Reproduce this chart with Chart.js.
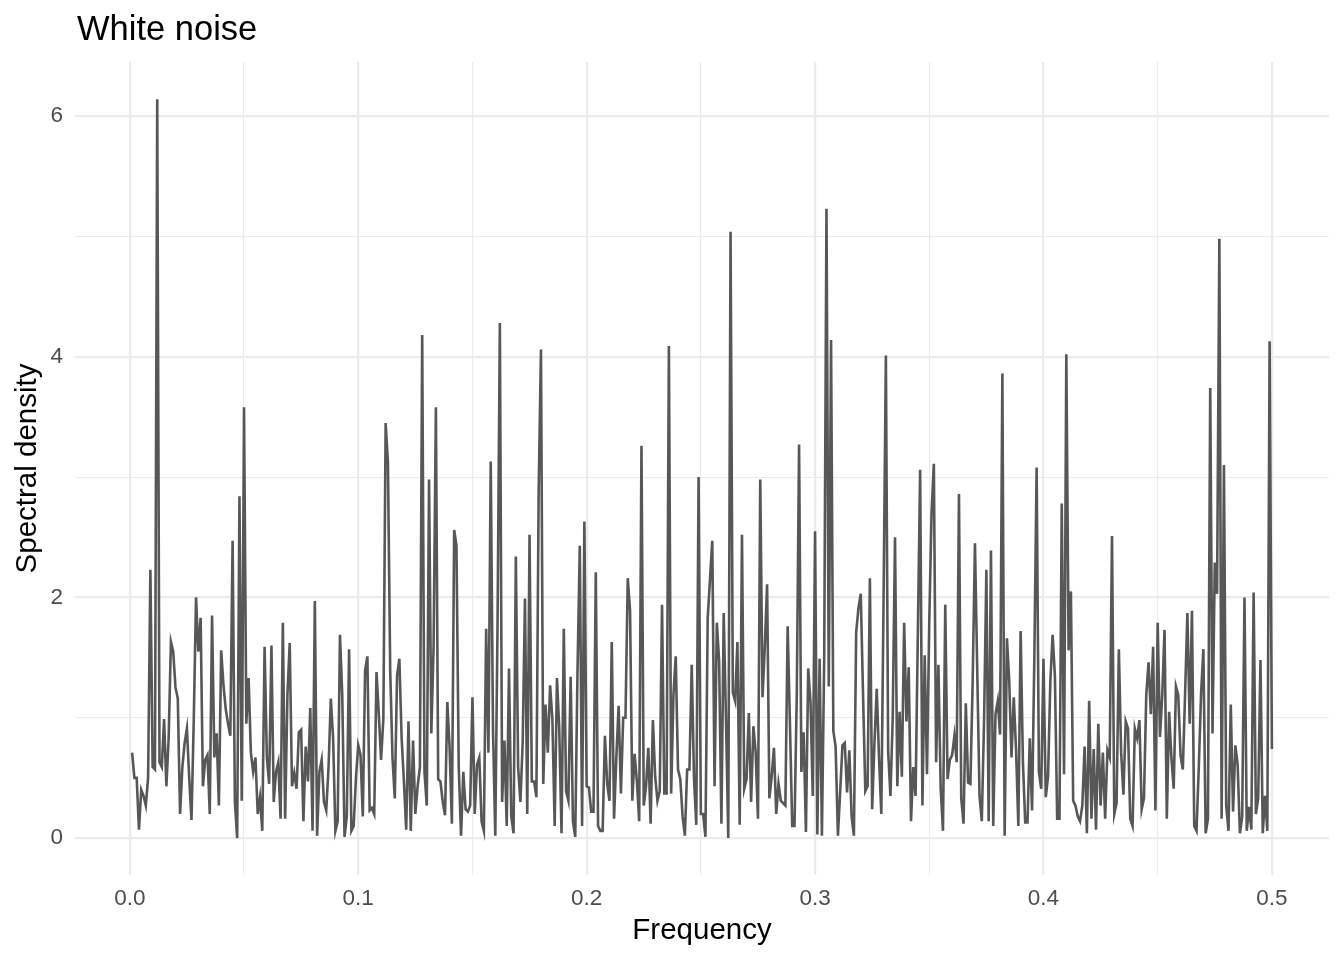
<!DOCTYPE html>
<html>
<head>
<meta charset="utf-8">
<script src="https://cdn.jsdelivr.net/npm/chart.js@4/dist/chart.umd.min.js"></script>
<style>
  html, body { margin: 0; padding: 0; background: #ffffff; }
  #wrap { width: 1344px; height: 960px; }
</style>
</head>
<body>
<div id="wrap"><canvas id="noiseChart" width="1344" height="960"></canvas></div>
<script>
// DATA -----------------------------------------------------------------------

const chartTitle = 'White noise'
const xTitle = 'Frequency'
const yTitle = 'Spectral density'

// frequencies run 0.001 ... 0.500
const freqStep = 0.001

// spectral density, 100 frequencies per block
const density001to100 = [
    0.71, 0.50, 0.50, 0.07, 0.40, 0.35, 0.27, 0.50, 2.23, 0.59,
    0.57, 6.14, 0.63, 0.59, 0.99, 0.43, 0.83, 1.63, 1.55, 1.25,
    1.16, 0.20, 0.59, 0.79, 0.91, 0.50, 0.15, 0.99, 2.00, 1.55,
    1.83, 0.43, 0.65, 0.69, 0.20, 1.85, 0.67, 0.87, 0.27, 1.56,
    1.27, 1.07, 0.95, 0.85, 2.47, 0.30, 0.00, 2.84, 0.31, 3.58,
    0.95, 1.33, 0.71, 0.55, 0.67, 0.20, 0.34, 0.06, 1.59, 0.67,
    0.45, 1.60, 0.30, 0.55, 0.63, 0.16, 1.79, 0.16, 1.19, 1.62,
    0.43, 0.54, 0.41, 0.88, 0.90, 0.14, 0.76, 0.47, 1.08, 0.06,
    1.97, 0.02, 0.55, 0.65, 0.30, 0.23, 0.59, 1.16, 0.83, 0.06,
    0.14, 1.69, 1.19, 0.01, 0.18, 1.57, 0.06, 0.10, 0.50, 0.77
]
const density101to200 = [
    0.69, 0.18, 1.39, 1.51, 0.23, 0.25, 0.20, 1.38, 1.03, 0.65,
    0.99, 3.45, 3.12, 1.39, 0.67, 0.33, 1.35, 1.49, 0.83, 0.47,
    0.07, 0.97, 0.06, 0.81, 0.20, 0.43, 0.59, 4.18, 0.55, 0.27,
    2.98, 0.87, 1.60, 3.58, 0.49, 0.47, 0.30, 0.19, 1.13, 0.75,
    0.12, 2.56, 2.43, 0.59, 0.02, 0.55, 0.24, 0.22, 0.27, 1.17,
    0.20, 0.61, 0.67, 0.14, 0.06, 1.74, 0.71, 3.13, 0.90, 0.02,
    1.80, 4.28, 0.30, 0.81, 0.10, 1.41, 0.18, 0.04, 2.34, 0.59,
    0.30, 0.80, 1.99, 0.20, 2.52, 0.47, 0.47, 0.34, 2.90, 4.06,
    0.45, 1.11, 0.71, 1.27, 0.99, 0.10, 1.33, 0.91, 0.04, 1.74,
    0.39, 0.31, 1.34, 0.14, 0.01, 1.39, 2.43, 0.10, 2.63, 0.43
]
const density201to300 = [
    0.42, 0.22, 0.22, 2.21, 0.10, 0.06, 0.06, 0.85, 0.45, 0.31,
    1.63, 0.16, 0.67, 1.10, 0.37, 1.00, 1.00, 2.16, 1.89, 0.31,
    0.70, 0.47, 0.14, 3.26, 0.27, 0.43, 0.75, 0.12, 0.98, 0.51,
    0.31, 0.39, 1.94, 0.37, 0.37, 4.09, 0.37, 1.19, 1.51, 0.57,
    0.49, 0.18, 0.02, 0.57, 0.57, 1.44, 0.50, 0.11, 3.00, 0.20,
    0.20, 0.01, 1.83, 2.15, 2.47, 0.43, 1.79, 1.47, 0.12, 1.87,
    0.99, 0.00, 5.04, 1.21, 1.14, 1.63, 0.11, 2.52, 0.41, 0.49,
    1.04, 0.30, 0.93, 0.71, 0.16, 2.98, 1.17, 1.59, 2.11, 0.33,
    0.51, 0.75, 0.20, 0.45, 0.31, 0.29, 0.27, 1.76, 0.95, 0.10,
    0.10, 1.20, 3.27, 0.55, 0.88, 0.05, 1.41, 1.13, 0.35, 2.55
]
const density301to400 = [
    0.03, 1.49, 0.02, 1.50, 5.23, 1.26, 4.14, 0.89, 0.76, 0.02,
    0.39, 0.77, 0.79, 0.38, 0.73, 0.18, 0.02, 1.71, 1.91, 2.03,
    1.20, 0.39, 0.43, 2.16, 0.24, 0.79, 1.24, 0.67, 0.20, 2.00,
    4.01, 0.72, 0.35, 1.00, 2.50, 0.43, 1.05, 0.51, 1.79, 0.97,
    1.42, 0.14, 0.59, 0.35, 1.70, 3.06, 0.27, 1.52, 0.53, 1.80,
    2.70, 3.11, 0.63, 1.44, 0.41, 0.06, 1.94, 0.49, 0.65, 0.69,
    0.85, 0.63, 2.86, 0.33, 0.12, 1.12, 0.46, 0.45, 1.30, 2.45,
    1.39, 0.35, 0.14, 0.99, 2.23, 0.14, 2.39, 0.10, 1.03, 1.14,
    0.86, 3.86, 0.02, 1.66, 1.31, 0.67, 1.17, 0.73, 0.10, 1.72,
    0.63, 0.13, 0.13, 0.83, 0.23, 1.50, 3.08, 0.55, 0.41, 1.49
]
const density401to500 = [
    0.34, 0.51, 1.30, 1.69, 1.35, 0.16, 0.16, 2.78, 0.53, 4.02,
    1.56, 2.05, 0.31, 0.27, 0.18, 0.14, 0.27, 0.76, 0.04, 1.14,
    0.16, 0.74, 0.07, 0.95, 0.27, 0.71, 0.16, 0.73, 0.67, 2.51,
    0.20, 0.29, 1.57, 0.71, 0.36, 0.97, 0.91, 0.16, 0.10, 0.91,
    0.83, 0.98, 0.24, 0.33, 1.19, 1.46, 1.03, 1.59, 0.23, 1.79,
    0.84, 1.19, 1.73, 0.16, 1.05, 0.67, 0.41, 1.26, 1.19, 0.69,
    0.57, 1.20, 1.87, 0.95, 1.89, 0.10, 0.06, 0.59, 1.20, 1.57,
    0.04, 0.16, 3.74, 0.87, 2.29, 2.03, 4.98, 0.16, 3.10, 0.27,
    0.06, 1.11, 0.22, 0.77, 0.61, 0.04, 0.18, 2.00, 0.06, 0.26,
    0.07, 2.04, 0.20, 0.33, 1.48, 0.04, 0.35, 0.06, 4.13, 0.74
]

// axis ticks (major every 0.1 / 2, minor halfway)
const xTickValues = [0, 0.05, 0.1, 0.15, 0.2, 0.25, 0.3, 0.35, 0.4, 0.45, 0.5]
const yTickValues = [0, 1, 2, 3, 4, 5, 6]

// SETTINGS -------------------------------------------------------------------

const gridColor = '#EBEBEB'
const lineColor = '#575757'
const tickColor = '#4D4D4D'
const fontFamily = '"Liberation Sans", Arial, Helvetica, sans-serif'

// BUILD ----------------------------------------------------------------------

const density = [].concat(density001to100, density101to200, density201to300,
    density301to400, density401to500)
const points = density.map((d, i) => ({x: (i + 1) * freqStep, y: d}))

// ggplot-style title sitting flush with the panel's left edge
const plotTitle = {
    id: 'plotTitle',
    afterDraw(chart) {
        const ctx = chart.ctx
        ctx.save()
        ctx.font = `34.5px ${fontFamily}`
        ctx.fillStyle = '#000000'
        ctx.textAlign = 'left'
        ctx.textBaseline = 'alphabetic'
        ctx.fillText(chartTitle, chart.chartArea.left + 2, 40)
        ctx.restore()
    }
}

new Chart(document.getElementById('noiseChart'), {
    type: 'line',
    data: {
        datasets: [{
            label: yTitle,
            data: points,
            borderColor: lineColor,
            borderWidth: 2.6,
            pointRadius: 0,
            tension: 0,
            fill: false
        }]
    },
    options: {
        responsive: false,
        animation: false,
        devicePixelRatio: 1,
        layout: {
            padding: {top: 62, right: 15, bottom: 0, left: 0}
        },
        plugins: {
            legend: {display: false},
            tooltip: {enabled: false}
        },
        scales: {
            x: {
                type: 'linear',
                min: -0.024,
                max: 0.525,
                afterBuildTicks: (scale) => {
                    scale.ticks = xTickValues.map(v => ({value: v}))
                },
                afterFit: (scale) => { scale.height = 85 },
                border: {display: false},
                grid: {
                    drawTicks: false,
                    color: gridColor,
                    lineWidth: (c) => (Math.round(c.tick.value * 100) % 10 === 0 ? 2.2 : 1.1)
                },
                ticks: {
                    autoSkip: false,
                    maxRotation: 0,
                    padding: 10,
                    color: tickColor,
                    font: {family: fontFamily, size: 22.5},
                    callback: (v) => (Math.round(v * 100) % 10 === 0 ? v.toFixed(1) : '')
                },
                title: {
                    display: true,
                    text: xTitle,
                    color: '#000000',
                    font: {family: fontFamily, size: 29.5},
                    padding: {top: 0, bottom: 11}
                }
            },
            y: {
                min: -0.307,
                max: 6.45,
                afterBuildTicks: (scale) => {
                    scale.ticks = yTickValues.map(v => ({value: v}))
                },
                afterFit: (scale) => { scale.width = 75 },
                border: {display: false},
                grid: {
                    drawTicks: false,
                    color: gridColor,
                    lineWidth: (c) => (c.tick.value % 2 === 0 ? 2.2 : 1.1)
                },
                ticks: {
                    autoSkip: false,
                    padding: 12,
                    color: tickColor,
                    font: {family: fontFamily, size: 22.5},
                    callback: (v) => (v % 2 === 0 ? String(v) : '')
                },
                title: {
                    display: true,
                    text: yTitle,
                    color: '#000000',
                    font: {family: fontFamily, size: 29.5},
                    padding: {top: 10, bottom: 0}
                }
            }
        }
    },
    plugins: [plotTitle]
});
</script>
</body>
</html>
